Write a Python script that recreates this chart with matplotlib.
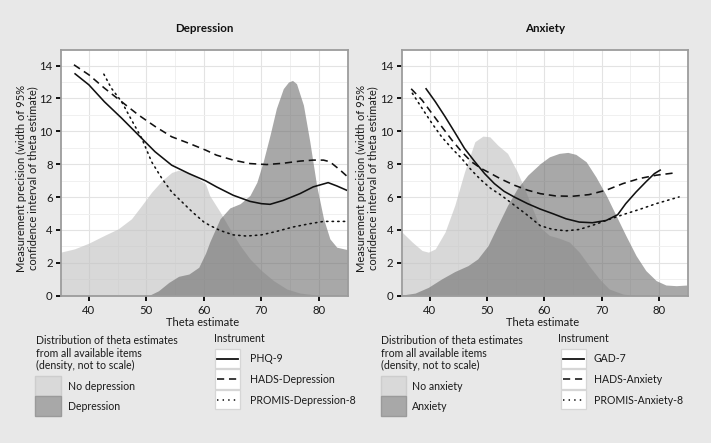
import matplotlib
matplotlib.use('Agg')
import matplotlib.pyplot as plt
from matplotlib.patches import Rectangle
from matplotlib.lines import Line2D
from matplotlib.ticker import MultipleLocator

plt.rcParams['font.family'] = ['Lato', 'DejaVu Sans']

# ---------------- Data: Depression panel ----------------
dep_nodep_x = [35.1, 37.5, 40.0, 42.7, 45.1, 47.4, 49.2, 50.9, 52.7, 54.4, 55.6, 57.4, 59.1, 60.3,
               61.0, 62.8, 64.5, 66.3, 68.0, 70.0, 72.1, 74.4, 76.7, 79.6, 85.0]
dep_nodep_y = [2.65, 2.85, 3.2, 3.67, 4.07, 4.68, 5.5, 6.3, 7.0, 7.5, 7.64, 7.5, 7.1, 6.8,
               6.1, 5.1, 4.07, 3.05, 2.24, 1.53, 0.92, 0.41, 0.16, 0.04, 0.0]
dep_dep_x = [50.35, 52.1, 53.9, 55.6, 57.4, 59.1, 60.3, 61.0, 62.8, 64.5, 66.3, 68.0, 69.2, 70.3,
             71.5, 72.6, 73.8, 74.7, 75.4, 76.1, 77.3, 78.4, 79.6, 80.8, 81.9, 83.1, 85.0]
dep_dep_y = [0.0, 0.3, 0.81, 1.18, 1.32, 1.73, 2.6, 3.26, 4.68, 5.34, 5.6, 6.1, 6.9, 8.15,
             9.78, 11.4, 12.6, 13.0, 13.1, 12.9, 11.6, 9.4, 6.7, 4.68, 3.46, 2.95, 2.8]

phq9_x = [37.6, 40.0, 42.7, 45.7, 48.6, 51.5, 54.4, 57.4, 60.3, 62.2, 65.1, 68.0, 70.0, 71.5,
          73.8, 76.7, 79.0, 81.6, 83.1, 84.8]
phq9_y = [13.5, 12.83, 11.8, 10.8, 9.78, 8.76, 7.94, 7.43, 6.99, 6.62, 6.11, 5.74, 5.6, 5.56,
          5.8, 6.21, 6.62, 6.88, 6.68, 6.42]
hadsd_x = [37.4, 40.0, 42.7, 45.7, 48.6, 51.5, 54.4, 57.4, 60.3, 62.2, 65.1, 68.0, 70.9, 73.8,
           76.7, 79.0, 80.8, 81.9, 83.7, 84.8]
hadsd_y = [14.05, 13.44, 12.63, 11.8, 11.0, 10.3, 9.67, 9.27, 8.86, 8.55, 8.25, 8.04, 7.98, 8.06,
           8.19, 8.25, 8.25, 8.15, 7.64, 7.29]
promisd_x = [42.6, 43.9, 45.7, 47.4, 49.2, 50.9, 52.7, 54.4, 56.2, 58.0, 60.0, 61.0, 62.8, 65.1,
             67.4, 70.0, 72.6, 75.5, 78.4, 80.8, 84.8]
promisd_y = [13.48, 12.63, 11.8, 10.7, 9.57, 8.15, 7.13, 6.31, 5.7, 5.09, 4.48, 4.28, 3.97, 3.7,
             3.63, 3.7, 3.91, 4.18, 4.38, 4.52, 4.52]

# ---------------- Data: Anxiety panel ----------------
anx_noanx_x = [35.2, 37.0, 38.7, 39.8, 41.0, 42.7, 44.4, 46.1, 47.9, 49.3, 50.5, 51.9, 53.6, 55.3,
               56.8, 58.2, 59.3, 60.9, 62.6, 64.4, 66.1, 67.8, 69.6, 71.3, 73.7, 76.0, 85.0]
anx_noanx_y = [3.87, 3.26, 2.75, 2.65, 2.85, 3.87, 5.5, 7.54, 9.37, 9.71, 9.67, 9.16, 8.66, 7.54,
               6.31, 5.09, 4.15, 3.67, 3.5, 3.26, 2.65, 1.83, 1.02, 0.41, 0.1, 0.0, 0.0]
anx_anx_x = [35.2, 37.5, 39.8, 42.1, 44.4, 46.7, 48.4, 50.2, 51.9, 53.6, 55.3, 57.1, 59.3, 60.9,
             62.6, 64.1, 65.5, 67.3, 69.0, 70.8, 72.5, 74.2, 76.0, 77.7, 79.5, 81.2, 83.0, 84.9]
anx_anx_y = [0.04, 0.16, 0.51, 1.02, 1.47, 1.83, 2.24, 3.05, 4.28, 5.5, 6.52, 7.33, 8.04, 8.45,
             8.66, 8.72, 8.6, 8.15, 7.23, 6.11, 4.89, 3.67, 2.44, 1.53, 0.92, 0.65, 0.61, 0.65]

gad7_x = [39.4, 41.0, 42.7, 44.4, 46.1, 47.9, 49.6, 51.3, 53.0, 54.8, 57.1, 59.3, 61.5, 63.8,
          66.1, 68.4, 70.8, 72.8, 74.2, 76.0, 77.7, 79.2, 80.2]
gad7_y = [12.59, 11.81, 10.9, 9.94, 8.96, 8.15, 7.43, 6.82, 6.35, 6.0, 5.6, 5.27, 4.99, 4.68,
          4.48, 4.44, 4.58, 4.93, 5.6, 6.31, 6.92, 7.43, 7.64]
hadsa_x = [36.8, 38.7, 40.4, 42.1, 43.9, 45.6, 47.3, 49.0, 50.7, 52.5, 54.8, 57.1, 59.3, 62.0,
           64.9, 67.8, 70.8, 73.7, 76.6, 79.5, 82.7]
hadsa_y = [12.59, 11.9, 11.1, 10.3, 9.47, 8.76, 8.15, 7.74, 7.43, 7.09, 6.72, 6.42, 6.21, 6.07,
           6.05, 6.15, 6.42, 6.82, 7.13, 7.33, 7.47]
promisa_x = [37.0, 38.7, 40.4, 42.1, 43.9, 45.6, 47.3, 49.0, 50.7, 52.5, 54.8, 57.1, 59.3, 61.5,
             63.8, 66.1, 68.4, 70.8, 73.7, 76.6, 79.5, 83.5]
promisa_y = [12.32, 11.4, 10.5, 9.67, 8.96, 8.35, 7.64, 7.03, 6.52, 6.11, 5.5, 4.89, 4.26, 4.03,
             3.95, 4.03, 4.28, 4.58, 4.93, 5.25, 5.6, 6.01]

panel_titles = ['Depression', 'Anxiety']
dist_labels = [['No depression', 'Depression'], ['No anxiety', 'Anxiety']]
instr_labels = [['PHQ-9', 'HADS-Depression', 'PROMIS-Depression-8'],
                ['GAD-7', 'HADS-Anxiety', 'PROMIS-Anxiety-8']]
x_ticks = [40, 50, 60, 70, 80]
y_ticks = [0, 2, 4, 6, 8, 10, 12, 14]
y_label = 'Measurement precision (width of 95%\nconfidence interval of theta estimate)'
x_label = 'Theta estimate'
dist_title = 'Distribution of theta estimates\nfrom all available items\n(density, not to scale)'

panels = [
    dict(light=(dep_nodep_x, dep_nodep_y), dark=(dep_dep_x, dep_dep_y),
         lines=[(phq9_x, phq9_y), (hadsd_x, hadsd_y), (promisd_x, promisd_y)]),
    dict(light=(anx_noanx_x, anx_noanx_y), dark=(anx_anx_x, anx_anx_y),
         lines=[(gad7_x, gad7_y), (hadsa_x, hadsa_y), (promisa_x, promisa_y)]),
]

# ---------------- Styling ----------------
W, H = 711, 443
BG = '#e8e8e8'
LIGHT_C, LIGHT_A = '#c4c4c4', 0.65
DARK_C, DARK_A = '#696969', 0.58
LS = ['-', (0, (4.5, 3)), (0, (0.9, 2.6))]
LW = 1.15
FS = 7.6
FS_TICK = 8.2
FS_AX = 8.0

fig = plt.figure(figsize=(W / 100, H / 100), dpi=100, facecolor=BG)

def fx(x):
    return x / W

def fy(y):
    return 1 - y / H

ax_x = [(61, 347.7), (401.7, 687.7)]
ax_top, ax_bot = 50, 295.7
ylab_x = [27.5, 367.5]
dist_x = [(36.5, 35, 60.5, 68), (381, 380.5, 406, 412)]   # title x, box x0, box x1, label x
instr_x = [(214, 215, 240, 250), (558, 561, 586, 594)]

for i, p in enumerate(panels):
    x0, x1 = ax_x[i]
    ax = fig.add_axes([fx(x0), fy(ax_bot), (x1 - x0) / W, (ax_bot - ax_top) / H])
    ax.set_facecolor('white')
    ax.set_xlim(35.15, 85.0)
    ax.set_ylim(0, 14.95)
    ax.xaxis.set_major_locator(MultipleLocator(10))
    ax.xaxis.set_minor_locator(MultipleLocator(5))
    ax.yaxis.set_major_locator(MultipleLocator(2))
    ax.yaxis.set_minor_locator(MultipleLocator(1))
    ax.set_xticks(x_ticks)
    ax.set_yticks(y_ticks)
    ax.grid(which='major', color='#e3e3e3', lw=0.8)
    ax.grid(which='minor', color='#f0f0f0', lw=0.7)
    ax.set_axisbelow(True)
    ax.tick_params(which='minor', length=0)
    ax.tick_params(which='major', direction='out', length=3.5, width=1.3, color='black',
                   labelsize=FS_TICK, labelcolor='#1a1a1a', pad=2.5)
    ax.tick_params(axis='x', pad=3)
    for s in ax.spines.values():
        s.set_color('#9c9c9c')
        s.set_linewidth(1.3)

    lx, ly = p['light']
    dx, dy = p['dark']
    ax.fill_between(lx, 0, ly, color=LIGHT_C, alpha=LIGHT_A, lw=0)
    ax.fill_between(dx, 0, dy, color=DARK_C, alpha=DARK_A, lw=0)
    for (xs, ys), ls in zip(p['lines'], LS):
        ax.plot(xs, ys, color='#111111', lw=LW, linestyle=ls, dash_capstyle='round'
                if ls == LS[2] else 'butt')

    cx = (x0 + x1) / 2
    fig.text(fx(cx), fy(29), panel_titles[i], ha='center', va='center',
             fontsize=8.3, fontweight='bold', color='#111111')
    fig.text(fx(ylab_x[i]), fy(178), y_label, rotation=90, ha='center', va='center',
             multialignment='center', fontsize=FS_AX, color='#1a1a1a', linespacing=1.05)
    fig.text(fx(cx - 2), fy(322), x_label, ha='center', va='center', fontsize=FS_AX,
             color='#1a1a1a')

    # distribution legend
    tx, bx0, bx1, lbx = dist_x[i]
    fig.text(fx(tx), fy(335.5), dist_title, ha='left', va='top', fontsize=FS,
             color='#1a1a1a', linespacing=1.15)
    for k, (col, lab) in enumerate(zip([('#d9d9d9', '#cdcdcd'), ('#a8a8a8', '#9a9a9a')],
                                        dist_labels[i])):
        yt = 376 + 20.3 * k
        fig.add_artist(Rectangle((fx(bx0), fy(yt + 20)), (bx1 - bx0) / W, 20 / H,
                                 transform=fig.transFigure, facecolor=col[0],
                                 edgecolor=col[1], lw=1.0))
        fig.text(fx(lbx), fy(yt + 10.5), lab, ha='left', va='center', fontsize=FS,
                 color='#1a1a1a')

    # instrument legend
    tx, bx0, bx1, lbx = instr_x[i]
    fig.text(fx(tx), fy(339), 'Instrument', ha='left', va='center', fontsize=FS,
             color='#1a1a1a')
    for k, lab in enumerate(instr_labels[i]):
        yt = 348.5 + 20.6 * k
        fig.add_artist(Rectangle((fx(bx0), fy(yt + 19.5)), (bx1 - bx0) / W, 19.5 / H,
                                 transform=fig.transFigure, facecolor='white',
                                 edgecolor='#d6d6d6', lw=0.9))
        ym = yt + 10
        fig.add_artist(Line2D([fx(bx0 + 2), fx(bx1 - 2)], [fy(ym), fy(ym)],
                              transform=fig.transFigure, color='#111111',
                              lw=1.3 if k == 0 else LW, linestyle=LS[k]))
        fig.text(fx(lbx), fy(ym + 0.5), lab, ha='left', va='center', fontsize=FS,
                 color='#1a1a1a')

fig.savefig('out.png', dpi=100, facecolor=BG)
